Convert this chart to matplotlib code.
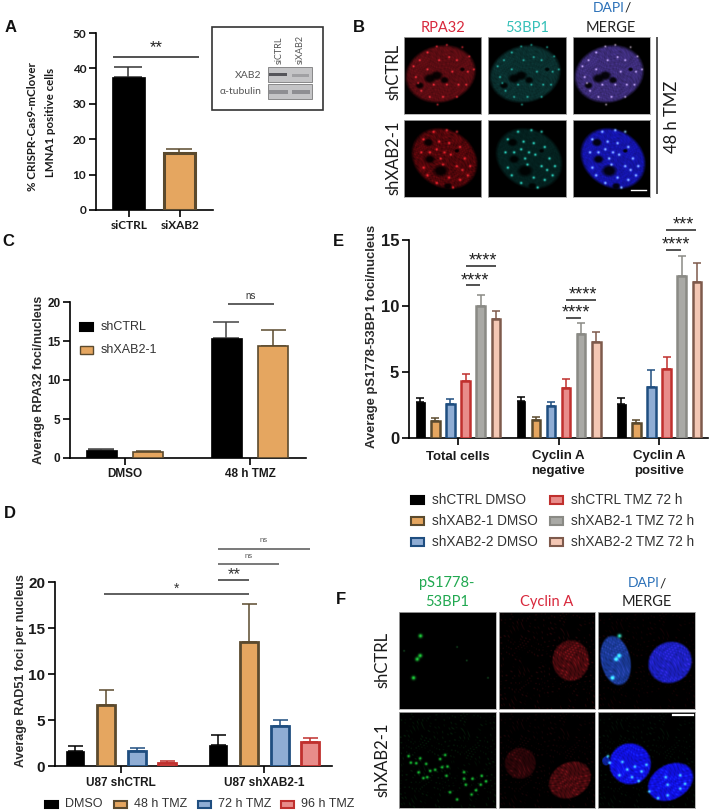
import matplotlib
matplotlib.use('Agg')
import matplotlib.pyplot as plt
from matplotlib.colors import to_rgb
from matplotlib.patches import Rectangle
import numpy as np

W, H = 709, 810

# panel A
a_labels = ['siCTRL', 'siXAB2']
a_values = [37.7, 16.0]
a_err = [2.6, 1.2]

# panel C
c_groups = ['DMSO', '48 h TMZ']
c_shctrl = [1.0, 15.4]
c_shctrl_err = [0.2, 2.1]
c_shxab2 = [0.8, 14.4]
c_shxab2_err = [0.15, 2.0]

# panel D
d_groups = ['U87 shCTRL', 'U87 shXAB2-1']
d_series = ['DMSO', '48 h TMZ', '72 h TMZ', '96 h TMZ']
d_dmso = [1.65, 2.3]
d_48h = [6.6, 13.45]
d_72h = [1.65, 4.4]
d_96h = [0.3, 2.6]
d_dmso_err = [0.55, 1.05]
d_48h_err = [1.65, 4.15]
d_72h_err = [0.35, 0.6]
d_96h_err = [0.2, 0.4]

# panel E
e_groups = ['Total cells', 'Cyclin A\nnegative', 'Cyclin A\npositive']
e_series = ['shCTRL DMSO', 'shXAB2-1 DMSO', 'shXAB2-2 DMSO',
            'shCTRL TMZ 72 h', 'shXAB2-1 TMZ 72 h', 'shXAB2-2 TMZ 72 h']
e_values = [[2.7, 2.8, 2.6], [1.3, 1.4, 1.1], [2.6, 2.4, 3.85],
            [4.3, 3.8, 5.2], [10.0, 7.9, 12.3], [9.0, 7.3, 11.8]]
e_err = [[0.3, 0.3, 0.4], [0.2, 0.2, 0.3], [0.35, 0.3, 1.3],
         [0.55, 0.65, 0.9], [0.8, 0.8, 1.5], [0.65, 0.7, 1.45]]

b_spots_top = [(.12, .38), (.2, .3), (.3, .2), (.42, .12), (.55, .1), (.75, .13), (.84, .25),
               (.68, .3), (.58, .26), (.45, .3), (.3, .42), (.15, .52), (.62, .45), (.82, .45),
               (.9, .42), (.38, .62), (.55, .62), (.7, .62), (.22, .7), (.33, .78), (.5, .78),
               (.68, .78), (.8, .62), (.18, .6), (.43, .88)]
b_spots_bottom = [(.38, .15), (.55, .13), (.68, .15), (.25, .25), (.45, .28), (.58, .3), (.72, .35),
                  (.42, .38), (.52, .42), (.6, .45), (.33, .42), (.22, .42), (.78, .5), (.85, .6),
                  (.68, .6), (.25, .62), (.5, .58), (.3, .72), (.58, .75), (.72, .78), (.82, .72),
                  (.42, .82), (.63, .88), (.75, .65), (.47, .5)]
f_green_top = [(.22, .245), (.186, .486), (.217, .45), (.148, .68)]
f_green_faint = [(.6, .36), (.7, .5), (.92, .68), (.05, .4)]
f_green_bottom = [(.097, .459), (.12, .528), (.176, .534), (.217, .483), (.279, .541), (.424, .49),
                  (.476, .448), (.5, .569), (.372, .603), (.321, .614), (.445, .576), (.2, .63),
                  (.25, .69), (.29, .68), (.49, .666), (.672, .628), (.672, .697), (.76, .697),
                  (.855, .666), (.9, .724), (.69, .759), (.845, .759), (.527, .838), (.797, .817),
                  (.6, .914), (.75, .862)]
f_merge_bottom = [(.1, .46), (.12, .53), (.25, .52), (.3, .6), (.38, .57), (.45, .62), (.5, .55),
                  (.22, .66), (.35, .68), (.42, .72), (.7, .68), (.72, .76), (.85, .66), (.9, .75),
                  (.53, .83), (.72, .87), (.62, .9), (.85, .8)]

ORANGE = ('#E5A660', '#5B4A2E')
BLACK = ('#000000', '#000000')
BLUE = ('#8FADD4', '#1F4E80')
RED = ('#E88C8A', '#C0302E')
GREY = ('#A9A9A5', '#8A8A85')
PEACH = ('#F4C7B4', '#7E5A4C')
INK = '#1A1A1A'

plt.rcParams['font.family'] = 'Liberation Sans'
plt.rcParams['axes.linewidth'] = 1.2

fig = plt.figure(figsize=(W / 100, H / 100), dpi=100)


def px_axes(left, top, right, bottom):
    ax = fig.add_axes([left / W, 1 - bottom / H, (right - left) / W, (bottom - top) / H])
    ax.spines['top'].set_visible(False)
    ax.spines['right'].set_visible(False)
    ax.set_xlim(left, right)
    ax.tick_params(width=1.2, length=5, pad=2, labelcolor=INK)
    return ax


def bars(ax, xs, values, err, width, colors, lw, err_color=None):
    face, edge = colors
    ecol = err_color or edge
    ax.bar(xs, values, width, color=face, edgecolor=edge, linewidth=lw, zorder=3)
    ax.errorbar(xs, values, yerr=[[0] * len(err), err], fmt='none', ecolor=ecol,
                elinewidth=1.1, capsize=width * 0.3, capthick=1.1, zorder=2)


# overlay in pixels for letters, brackets and the hand-drawn legends
ov = fig.add_axes([0, 0, 1, 1], zorder=10)
ov.set_xlim(0, W)
ov.set_ylim(H, 0)
ov.axis('off')
ov.patch.set_alpha(0)


def bracket(x0, x1, y, label=None, lx=None, ly=None, size=10, lw=1.1, color='#222222'):
    ov.plot([x0, x1], [y, y], color=color, lw=lw, solid_capstyle='butt')
    if label:
        ov.text(lx if lx else (x0 + x1) / 2, ly, label, ha='center', va='center',
                fontsize=size, color=color)


def swatch(x, y, colors, label, size, w=13, h=9, lw=1.5, gap=8):
    ov.add_patch(Rectangle((x, y - h / 2), w, h, facecolor=colors[0], edgecolor=colors[1], lw=lw))
    ov.text(x + w + gap, y, label, ha='left', va='center', fontsize=size, color='#333333')


def caption(x, y, s, color=INK, size=10.5, **kw):
    ov.text(x, y, s, ha=kw.pop('ha', 'center'), va='center', fontfamily='Lato', fontsize=size,
            color=color, **kw)


for letter, lx, ly in [('A', 11, 27), ('B', 359, 27), ('C', 8, 241), ('E', 338, 241),
                       ('D', 10, 514), ('F', 341, 600)]:
    ov.text(lx, ly, letter, fontsize=12, fontweight='bold', ha='center', va='center', color='#111111')

# --- panel A
ax = px_axes(96, 33, 213, 210)
bars(ax, [128], a_values[:1], a_err[:1], 33, BLACK, 0.5, '#333333')
bars(ax, [179], a_values[1:], a_err[1:], 31, ORANGE, 2.2)
ax.set_ylim(0, 50)
ax.set_xticks([129, 180], a_labels, fontfamily='Lato', fontweight='bold', fontsize=8.5)
ax.set_yticks(range(0, 51, 10), [str(v) for v in range(0, 51, 10)], fontfamily='Lato',
              fontweight='bold', fontsize=8.5)
caption(32, 127, '% CRISPR-Cas9-mClover', size=8.3, rotation=90, fontweight='bold')
caption(50, 122, 'LMNA1 positive cells', size=8.3, rotation=90, fontweight='bold')
bracket(113, 199, 57, '**', ly=48, size=12)

# western blot inset
ov.add_patch(Rectangle((212, 27), 111, 83, facecolor='white', edgecolor='#333333', lw=1.2))
for top in (67, 84):
    ov.add_patch(Rectangle((268, top), 44, 15, facecolor='#C4C4C6', edgecolor='#7A7A7A', lw=0.6))
ov.add_patch(Rectangle((269, 72.5), 18, 3.5, facecolor='#55555A', lw=0))
ov.add_patch(Rectangle((292, 73.5), 17, 3, facecolor='#A0A0A3', lw=0))
ov.add_patch(Rectangle((269, 90), 19, 4, facecolor='#8E8E92', lw=0))
ov.add_patch(Rectangle((292, 90), 18, 4, facecolor='#8E8E92', lw=0))
caption(261, 75, 'XAB2', '#555555', 7.5, ha='right')
caption(261, 91, 'α-tubulin', '#555555', 7.5, ha='right')
ov.text(279, 64, 'siCTRL', rotation=90, ha='center', va='bottom', fontfamily='Lato', fontsize=6.5, color='#555555')
ov.text(300, 64, 'siXAB2', rotation=90, ha='center', va='bottom', fontfamily='Lato', fontsize=6.5, color='#555555')

# --- panel C
ax = px_axes(70, 302, 306, 458)
bars(ax, [101, 226], c_shctrl, c_shctrl_err, 31, BLACK, 0.5, '#444444')
bars(ax, [148, 273], c_shxab2, c_shxab2_err, 30, ORANGE, 1.2)
ax.set_ylim(0, 20)
ax.set_xticks([125, 250], c_groups, fontweight='bold', fontsize=8.5)
ax.set_yticks(range(0, 21, 5), [str(v) for v in range(0, 21, 5)], fontweight='bold', fontsize=8.5)
ov.text(39, 380, 'Average RPA32 foci/nucleus', rotation=90, ha='center', va='center',
        fontsize=9, fontweight='bold', color='#2A2A2A')
bracket(228, 274, 304, 'ns', ly=296, size=7, color='#333333')
swatch(80, 327, BLACK, 'shCTRL', 9, w=13, h=8, gap=8)
swatch(80, 350, ORANGE, 'shXAB2-1', 9, w=13, h=8, lw=1, gap=8)

# --- panel D
ax = px_axes(55, 582, 332, 766)
d_x = [[75, 218], [106, 249], [137, 279.5], [167, 310]]
d_vals = [d_dmso, d_48h, d_72h, d_96h]
d_errs = [d_dmso_err, d_48h_err, d_72h_err, d_96h_err]
d_cols = [BLACK, ORANGE, BLUE, RED]
for xs, vals, errs, col in zip(d_x, d_vals, d_errs, d_cols):
    bars(ax, xs, vals, errs, 18, col, 2.0 if col is not BLACK else 0.5)
ax.set_ylim(0, 20)
ax.set_xticks([121, 264], d_groups, fontweight='bold', fontsize=8.5)
ax.tick_params(axis='x', pad=3)
ax.set_yticks(range(0, 21, 5), [str(v) for v in range(0, 21, 5)], fontsize=11, fontweight='bold')
ov.text(21, 671, 'Average RAD51 foci per nucleus', rotation=90, ha='center', va='center',
        fontsize=9, fontweight='bold', color='#2A2A2A')
bracket(104, 249, 594, '*', ly=589, size=10, color='#333333')
bracket(218, 249, 580, '**', lx=234, ly=575, size=12, color='#333333')
bracket(218, 279, 564, 'ns', ly=557, size=5.5, color='#555555')
bracket(218, 310, 549, 'ns', lx=264, ly=541, size=5.5, color='#555555')
for x, name, col in zip([45, 114, 198, 281], d_series, d_cols):
    swatch(x, 804, col, name, 9, w=13, h=7, lw=1.5, gap=7)

# --- panel E
ax = px_axes(409, 240, 708, 438)
group_x = [458, 558.5, 659]
step = 15.1
e_cols = [BLACK, ORANGE, BLUE, RED, GREY, PEACH]
for i, col in enumerate(e_cols):
    xs = [g + (i - 2.5) * step for g in group_x]
    bars(ax, xs, e_values[i], e_err[i], 8.5, col, 1.8 if col is not BLACK else 0.5)
ax.set_ylim(0, 15)
ax.set_xticks(group_x, e_groups, fontweight='bold', fontsize=9.5, linespacing=1.3)
ax.tick_params(axis='x', pad=4)
ax.set_yticks([0, 5, 10, 15], ['0', '5', '10', '15'], fontsize=12, fontweight='bold')
ov.text(372, 336, 'Average pS1778-53BP1 foci/nucleus', rotation=90, ha='center', va='center',
        fontsize=9.4, fontweight='bold', color='#2A2A2A')
bracket(466, 480, 285, '****', lx=475, ly=281, size=13)
bracket(466, 496, 266, '****', lx=483, ly=261, size=13)
bracket(566, 581, 318, '****', lx=576, ly=313, size=13)
bracket(566, 596, 300, '****', lx=583, ly=295, size=13)
bracket(666, 681, 250, '****', lx=676, ly=245, size=13)
bracket(666, 696, 230, '***', lx=683, ly=225, size=13)
for i, (name, col) in enumerate(zip(e_series, e_cols)):
    x = 411 if i < 3 else 550
    y = 500 + (i % 3) * 21
    swatch(x, y, col, name, 9.8, w=13, h=8, lw=1.5, gap=8)


# --- micrographs, painted as small images so edges stay soft like the confocal shots
GRID = 160
gy, gx = np.mgrid[0:GRID, 0:GRID] / (GRID - 1)
# warped phases keep the grain from reading as stripes
grain = (np.sin(71 * gx + 29 * gy + 4 * np.sin(17 * gy)) *
         np.sin(53 * gy - 37 * gx + 5 * np.sin(13 * gx)) *
         np.sin(97 * gx - 83 * gy + 3 * np.sin(23 * gx + 11 * gy)))


def ell_mask(cx, cy, rx, ry, angle, soft=0.1):
    a = np.radians(angle)
    dx, dy = gx - cx, gy - cy
    u = dx * np.cos(a) + dy * np.sin(a)
    v = -dx * np.sin(a) + dy * np.cos(a)
    d = np.sqrt((u / rx) ** 2 + (v / ry) ** 2)
    return np.clip((1 - d) / soft, 0, 1)


def paint(nuclei=(), holes=(), layers=(), speck=None, speck_amt=0.25):
    img = np.zeros((GRID, GRID, 3))
    keep = np.ones((GRID, GRID))
    for hx, hy, hr in holes:
        keep *= 1 - 0.9 * ell_mask(hx, hy, hr * 1.25, hr, 0, 0.5)
    for cx, cy, rx, ry, angle, color in nuclei:
        m = ell_mask(cx, cy, rx, ry, angle) * keep * (1 + speck_amt * grain)
        img += m[..., None] * np.array(to_rgb(color))
    if speck:
        img += np.clip(grain - 0.35, 0, 1)[..., None] * np.array(to_rgb(speck))
    for pts, color, sigma in layers:
        blob = np.zeros((GRID, GRID))
        for px, py in pts:
            blob += np.exp(-((gx - px) ** 2 + (gy - py) ** 2) / (2 * sigma ** 2))
        img += np.clip(blob, 0, 1)[..., None] * np.array(to_rgb(color))
    return np.clip(img, 0, 1)


def micro(left, top, right, bottom, image):
    im = fig.add_axes([left / W, 1 - bottom / H, (right - left) / W, (bottom - top) / H])
    im.imshow(image, extent=[0, 1, 1, 0], interpolation='bilinear', aspect='auto')
    im.set_xticks([])
    im.set_yticks([])
    for s in im.spines.values():
        s.set_edgecolor('#AAAAAA')
        s.set_linewidth(0.6)
    return im


holes_top = [(.2, .63, .05), (.33, .54, .07), (.42, .5, .07), (.52, .56, .05), (.75, .42, .03)]
holes_bottom = [(.31, .29, .06), (.33, .51, .06), (.47, .66, .09), (.56, .86, .05), (.68, .4, .03)]
cell_top = (.47, .48, .47, .38, -15)
cell_bottom = (.52, .5, .46, .38, 35)
b_cols = [(404, 481), (488, 566), (573, 650)]
b_faces = [('#5A0C12', '#50060A'), ('#0A2F2E', '#04211F'), ('#3C2C78', '#1414A8')]
b_spot_cols = [('#C82630', '#C02028'), ('#1E9C8E', '#2CC8B4'), ('#A898A8', '#88C0E8')]
for (x0, x1), face, sp in zip(b_cols, b_faces, b_spot_cols):
    micro(x0, 37, x1, 114, paint([cell_top + (face[0],)], holes_top, [(b_spots_top, sp[0], .009)]))
    amt = 0.45 if x0 == 404 else 0.2
    im = micro(x0, 120, x1, 197, paint([cell_bottom + (face[1],)], holes_bottom,
                                       [(b_spots_bottom, sp[1], .011)], speck_amt=amt))
    if x0 == 573:
        im.plot([.75, .944], [.905, .905], color='white', lw=1.0)

ov.plot([657, 657], [38, 193], color='#555555', lw=1.4)
caption(672, 117, '48 h TMZ', size=12, rotation=90)
caption(393, 72, 'shCTRL', size=12, rotation=90)
caption(393, 158, 'shXAB2-1', size=12, rotation=90)
caption(443, 28, 'RPA32', '#D8283C')
caption(527, 28, '53BP1', '#35C0B8')
caption(611, 28, 'MERGE', '#222222')
caption(593, 8, 'DAPI', '#2A70B8', 10, ha='left')
caption(625, 8, '/', '#222222', 10, ha='left')

# panel F images
cyc_top = (.75, .5, .2, .22, 0, '#4A0A0E')
micro(399, 612, 496, 709, paint(layers=[(f_green_top, '#20E040', .014), (f_green_faint, '#185A28', .006)]))
micro(499, 612, 595, 709, paint([cyc_top], speck='#4A0C10', speck_amt=0.5))
micro(598, 612, 695, 709, paint([(.18, .5, .16, .27, -12, '#1A3A98'), (.745, .52, .24, .22, -30, '#1C20C0')],
                                layers=[(f_green_top, '#30F0D0', .014)], speck='#30060A'))

micro(399, 712, 496, 808, paint(speck='#0A3A14', layers=[(f_green_bottom, '#18D038', .010)]))
micro(499, 712, 595, 808, paint([(.22, .535, .17, .17, 0, '#2A0508'), (.74, .71, .24, .19, -30, '#480A0E')],
                                speck='#340A0E', speck_amt=0.5))
im = micro(598, 712, 695, 808, paint([(.33, .54, .225, .225, 0, '#1010E0'), (.08, .51, .04, .05, 0, '#0C22A0'),
                                      (.75, .73, .26, .19, -30, '#1010E0')],
                                     layers=[(f_merge_bottom, '#40D8F0', .010)], speck='#0A2A14'))
im.plot([.77, .976], [.035, .035], color='white', lw=1.6)

caption(382, 660, 'shCTRL', size=12, rotation=90)
caption(382, 760, 'shXAB2-1', size=12, rotation=90)
caption(447, 583, 'pS1778-', '#20A850')
caption(447, 602, '53BP1', '#20A850')
caption(547, 602, 'Cyclin A', '#D8283C')
caption(647, 602, 'MERGE', '#222222')
caption(628, 583, 'DAPI', '#2A70B8', 10, ha='left')
caption(660, 583, '/', '#222222', 10, ha='left')

fig.savefig('out.png', dpi=100)
